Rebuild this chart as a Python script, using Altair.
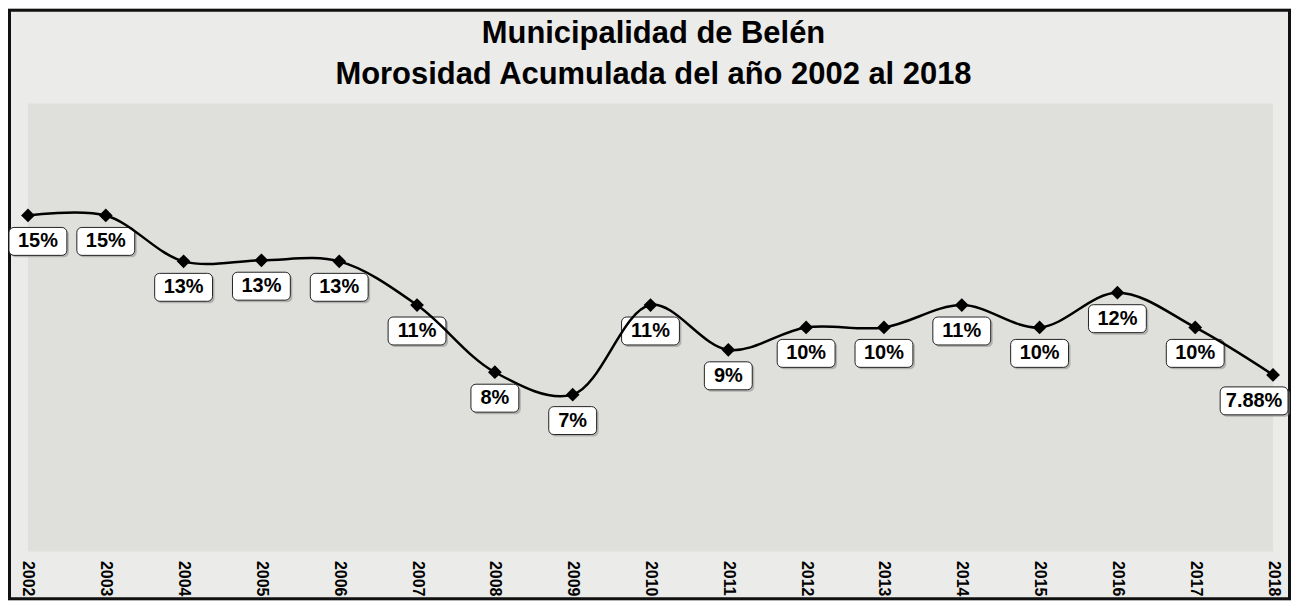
import altair as alt
import pandas as pd

years = list(range(2002, 2019))
values = [15.0, 15.0, 12.95, 13.0, 12.95, 11.0, 8.0, 7.0, 11.0, 9.0, 10.0, 10.0, 11.0, 10.0, 11.55, 10.0, 7.88]
labels = ["15%", "15%", "13%", "13%", "13%", "11%", "8%", "7%", "11%", "9%",
          "10%", "10%", "11%", "10%", "12%", "10%", "7.88%"]

df = pd.DataFrame({"year": years, "value": values, "label": labels})

W, H = 1248, 449
PAD_L, PAD_T, PAD_R, PAD_B = 20, 95, 18, 49
FONT = "Liberation Sans"

xenc = alt.X(
    "year:Q",
    scale=alt.Scale(domain=[years[0], years[-1]], nice=False, zero=False),
    axis=alt.Axis(values=years, format="d", labelAngle=90, labelAlign="left",
                  labelBaseline="middle", labelFontSize=16, labelFontWeight="bold",
                  labelFont=FONT, labelColor="black", labelPadding=9,
                  ticks=False, domain=False, grid=False, title=None),
)
yenc = alt.Y("value:Q", scale=alt.Scale(domain=[0, 20], nice=False), axis=None)

base = alt.Chart(df)

# outer frame
frame = alt.Chart(pd.DataFrame({"k": [0]})).mark_rect(
    fillOpacity=0, stroke="#111111", strokeWidth=3
).encode(
    x=alt.value(-PAD_L + 1.5), x2=alt.value(W + PAD_R - 1.5),
    y=alt.value(-PAD_T + 1.5), y2=alt.value(H + PAD_B - 1.5),
)

line = base.mark_line(interpolate="catmull-rom", color="black", strokeWidth=2.5).encode(x=xenc, y=yenc)
pts = base.mark_point(shape="diamond", filled=True, size=190, color="black", opacity=1).encode(x=xenc, y=yenc)

# label box groups: width by label length, horizontal shift at the edges
width_by_len = {2: 48, 3: 58, 5: 68}
edge_shift = {years[0]: 10, years[-1]: -19}
groups = {}
for yr, lab in zip(years, labels):
    key = (width_by_len[len(lab)], edge_shift.get(yr, 0))
    groups.setdefault(key, []).append(yr)

box_layers, shadow_layers, text_layers = [], [], []
TOP, BOT = 12, 40
for (w, dx), yrs in groups.items():
    sub = base.transform_filter(alt.FieldOneOfPredicate(field="year", oneOf=yrs))
    shadow_layers.append(sub.mark_rect(
        xOffset=dx - w / 2 + 2, x2Offset=dx + w / 2 + 2, yOffset=TOP + 2, y2Offset=BOT + 2,
        cornerRadius=5, fill="#8a8a8a", opacity=0.55
    ).encode(x=xenc, x2=alt.X2("year"), y=yenc, y2=alt.Y2("value")))
    box_layers.append(sub.mark_rect(
        xOffset=dx - w / 2, x2Offset=dx + w / 2, yOffset=TOP, y2Offset=BOT,
        cornerRadius=5, fill="white", stroke="#222222", strokeWidth=1
    ).encode(x=xenc, x2=alt.X2("year"), y=yenc, y2=alt.Y2("value")))
    text_layers.append(sub.mark_text(
        dx=dx, dy=26, fontSize=20, fontWeight="bold", font=FONT, color="black",
        align="center", baseline="middle"
    ).encode(x=xenc, y=yenc, text="label:N"))

chart = alt.layer(
    frame, *shadow_layers, *box_layers, line, pts, *text_layers
).properties(
    width=W, height=H,
    title=alt.TitleParams(
        text=["Municipalidad de Belén", "Morosidad Acumulada del año 2002 al 2018"],
        font=FONT, fontSize=31, fontWeight="bold", color="black",
        anchor="middle", lineHeight=41, offset=0, dy=82, dx=3,
    ),
    autosize=alt.AutoSizeParams(type="none"),
    padding={"left": PAD_L, "top": PAD_T, "right": PAD_R, "bottom": PAD_B},
).configure(
    background="#ebebe9",
).configure_view(
    fill="#dfdfdb", stroke=None,
)

chart.save("out.html", embed_options={"renderer": "svg", "actions": False})
